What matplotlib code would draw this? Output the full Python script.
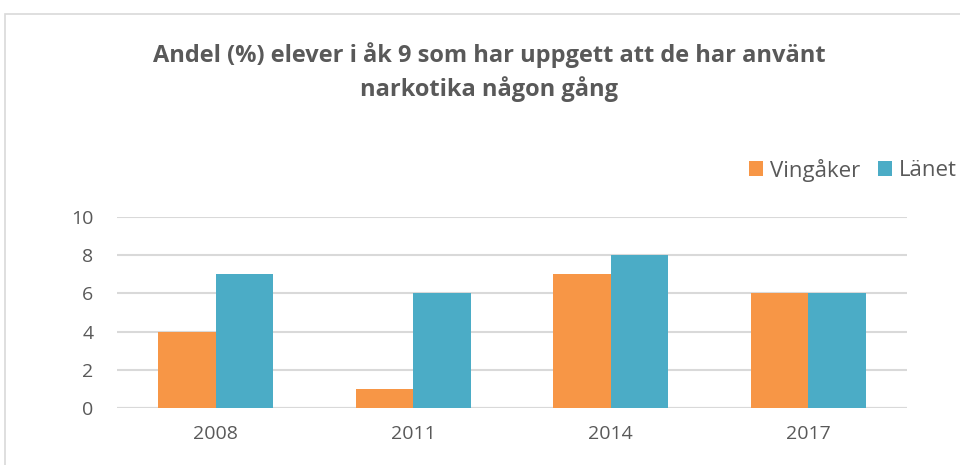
import matplotlib
matplotlib.use("Agg")
import matplotlib.pyplot as plt
import numpy as np
from matplotlib.patches import Rectangle

categories = ["2008", "2011", "2014", "2017"]
vingaker = [4, 1, 7, 6]
lanet = [7, 6, 8, 6]
series_names = ["Vingåker", "Länet"]
yticks = [0, 2, 4, 6, 8, 10]
title = "Andel (%) elever i åk 9 som har uppgett att de har använt\nnarkotika någon gång"

orange = "#F79646"
teal = "#4BACC6"
text_col = "#595959"
grid_col = "#D9D9D9"

plt.rcParams['font.family'] = ['Open Sans', 'DejaVu Sans']

fig = plt.figure(figsize=(9.6, 4.65), dpi=100)
W, H = 960, 465
# outer chart border
fig.patches.append(Rectangle((5 / W, -0.1), 1.0, (H - 14) / H + 0.1, transform=fig.transFigure,
                             fill=False, edgecolor="#D9D9D9", linewidth=1.2))

ax = fig.add_axes([117 / W, (H - 408) / H, 790 / W, (408 - 217) / H])
x = np.arange(len(categories))
bw = 0.29
ax.bar(x - bw / 2, vingaker, bw, color=orange, label=series_names[0], zorder=3)
ax.bar(x + bw / 2, lanet, bw, color=teal, label=series_names[1], zorder=3)

ax.set_xlim(-0.5, len(categories) - 0.5)
ax.set_ylim(0, 10)
ax.set_yticks(yticks)
ax.set_xticks(x)
ax.set_xticklabels(categories)
ax.yaxis.grid(True, color=grid_col, linewidth=1.5, zorder=0)
ax.set_axisbelow(True)
for s in ax.spines.values():
    s.set_visible(False)
ax.axhline(0, color=grid_col, linewidth=1.5, zorder=1)
ax.tick_params(axis='both', length=0, labelsize=14, labelcolor=text_col)
ax.tick_params(axis='x', pad=12)
ax.tick_params(axis='y', pad=17)
for lbl in ax.get_yticklabels():
    lbl.set_horizontalalignment('right')

fig.text(489 / W, 1 - 72 / H, title, ha='center', va='center', fontsize=17,
         fontweight='bold', color=text_col, linespacing=1.4)

leg = fig.legend(loc='center right', bbox_to_anchor=(957 / W, 1 - 170 / H), ncol=2,
                 frameon=False, fontsize=16, handlelength=0.65, handleheight=0.65,
                 handletextpad=0.3, columnspacing=0.8, labelcolor=text_col,
                 borderaxespad=0, borderpad=0)

fig.savefig("out.png", dpi=100)
